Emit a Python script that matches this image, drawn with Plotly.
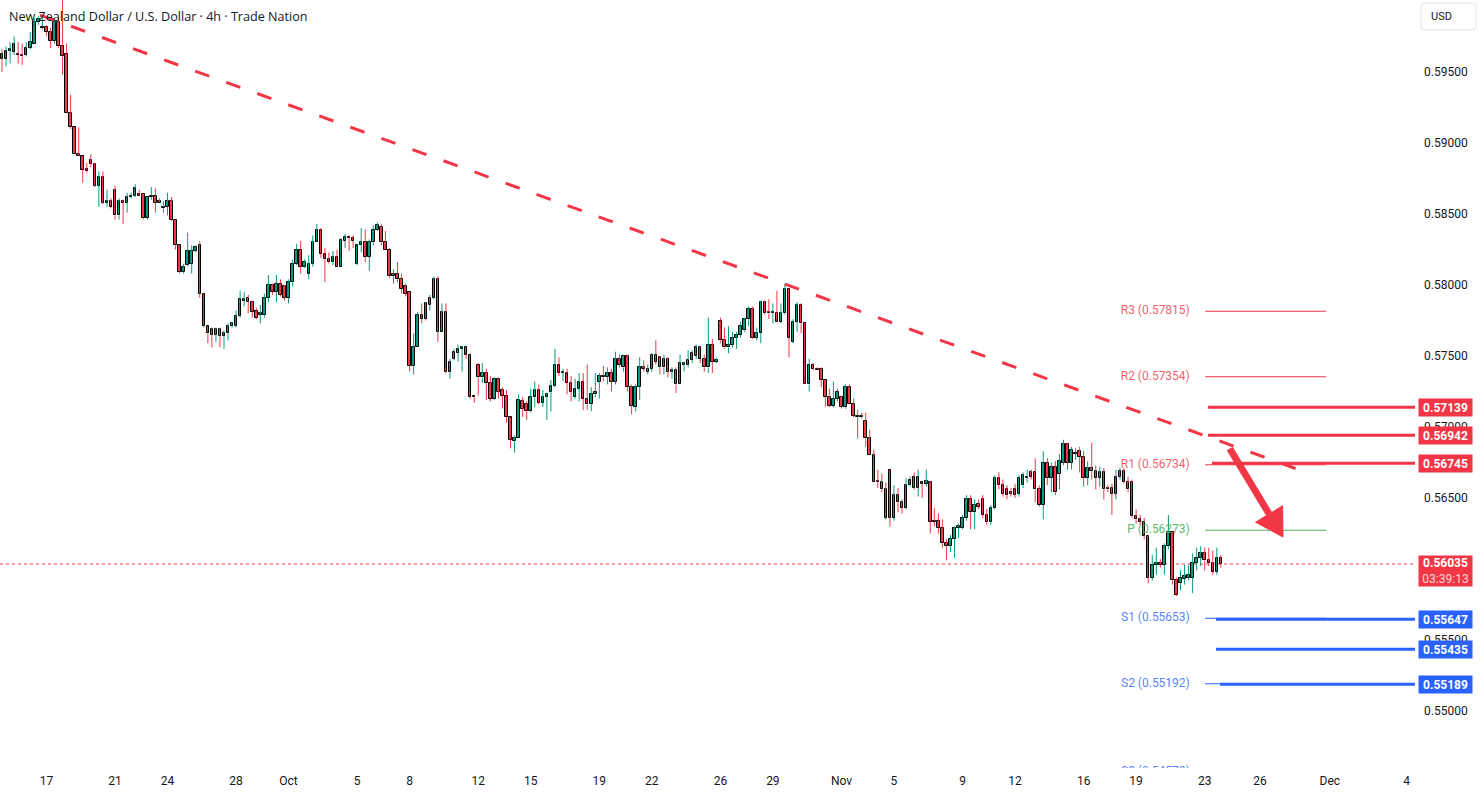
import plotly.graph_objects as go

# ---------------- data (NZD/USD 4h) ----------------
bar_open = [
    .5963, .5959, .5965, .5964, .5963, .5962, .5962, .5967, .5970, .5985,
    .5981, .5982, .5978, .5972, .5985, .5968, .5963, .5921, .5911, .5892,
    .5891, .5882, .5888, .5885, .5870, .5876, .5858, .5859, .5867, .5849,
    .5859, .5858, .5862, .5863, .5864, .5864, .5847, .5862, .5863, .5859,
    .5854, .5855, .5859, .5846, .5828, .5809, .5814, .5815, .5824, .5828,
    .5794, .5771, .5769, .5765, .5769, .5764, .5766, .5771, .5771, .5778,
    .5789, .5791, .5788, .5782, .5779, .5779, .5791, .5800, .5795, .5801,
    .5799, .5791, .5802, .5815, .5825, .5813, .5808, .5815, .5830, .5839,
    .5822, .5818, .5816, .5820, .5813, .5831, .5834, .5833, .5815, .5828,
    .5830, .5820, .5830, .5839, .5841, .5830, .5825, .5806, .5808, .5804,
    .5799, .5795, .5743, .5756, .5779, .5776, .5786, .5791, .5804, .5767,
    .5781, .5739, .5748, .5752, .5755, .5756, .5751, .5722, .5744, .5735,
    .5738, .5731, .5720, .5734, .5726, .5722, .5707, .5690, .5692, .5718,
    .5716, .5711, .5721, .5726, .5717, .5721, .5725, .5729, .5744, .5738,
    .5738, .5731, .5721, .5727, .5732, .5720, .5716, .5723, .5732, .5736,
    .5735, .5738, .5732, .5748, .5742, .5750, .5728, .5714, .5728, .5742,
    .5739, .5741, .5751, .5749, .5742, .5748, .5739, .5740, .5730, .5744,
    .5744, .5747, .5750, .5756, .5748, .5742, .5758, .5746, .5775, .5761,
    .5756, .5758, .5763, .5765, .5768, .5776, .5783, .5763, .5766, .5788,
    .5781, .5780, .5780, .5774, .5780, .5797, .5760, .5774, .5786, .5773,
    .5730, .5744, .5741, .5741, .5733, .5721, .5715, .5720, .5721, .5714,
    .5728, .5716, .5708, .5708, .5704, .5692, .5680, .5662, .5661, .5656,
    .5670, .5636, .5652, .5647, .5643, .5659, .5665, .5657, .5661, .5660,
    .5661, .5634, .5634, .5629, .5618, .5616, .5621, .5629, .5629, .5636,
    .5649, .5640, .5646, .5649, .5638, .5633, .5643, .5664, .5659, .5656,
    .5654, .5656, .5653, .5659, .5664, .5668, .5668, .5656, .5645, .5675,
    .5664, .5672, .5667, .5675, .5688, .5675, .5681, .5683, .5679, .5664,
    .5671, .5669, .5664, .5668, .5657, .5657, .5653, .5665, .5669, .5661,
    .5661, .5637, .5635, .5633, .5623, .5594, .5603, .5604, .5603, .5616,
    .5626, .5592, .5590, .5593, .5594, .5594, .5604, .5608, .5611, .5606,
    .5604, .5598, .5608,
]
bar_high = [
    .5966, .5968, .5971, .5975, .5971, .5970, .5971, .5978, .5988, .5989,
    .5990, .5983, .5981, .5988, .5989, .6004, .5970, .5934, .5911, .5911,
    .5891, .5886, .5892, .5886, .5880, .5880, .5867, .5861, .5870, .5861,
    .5860, .5865, .5865, .5871, .5867, .5864, .5862, .5869, .5868, .5861,
    .5859, .5865, .5862, .5846, .5828, .5815, .5837, .5828, .5828, .5831,
    .5794, .5771, .5770, .5770, .5770, .5768, .5773, .5774, .5782, .5796,
    .5795, .5793, .5789, .5784, .5786, .5794, .5807, .5801, .5807, .5804,
    .5800, .5804, .5818, .5829, .5831, .5818, .5821, .5835, .5843, .5840,
    .5826, .5823, .5824, .5825, .5833, .5836, .5835, .5835, .5828, .5840,
    .5839, .5832, .5842, .5844, .5843, .5838, .5826, .5811, .5816, .5808,
    .5801, .5795, .5766, .5781, .5787, .5788, .5793, .5806, .5806, .5787,
    .5787, .5748, .5755, .5758, .5757, .5756, .5752, .5722, .5745, .5745,
    .5741, .5736, .5735, .5735, .5728, .5726, .5707, .5694, .5723, .5721,
    .5718, .5727, .5732, .5730, .5726, .5724, .5733, .5755, .5749, .5741,
    .5741, .5736, .5734, .5738, .5738, .5744, .5728, .5738, .5738, .5743,
    .5742, .5741, .5753, .5751, .5751, .5751, .5730, .5730, .5749, .5747,
    .5744, .5752, .5761, .5750, .5751, .5749, .5742, .5742, .5751, .5746,
    .5754, .5754, .5758, .5757, .5751, .5777, .5762, .5749, .5777, .5770,
    .5771, .5767, .5767, .5774, .5777, .5785, .5785, .5770, .5789, .5789,
    .5790, .5787, .5796, .5787, .5801, .5797, .5776, .5788, .5787, .5773,
    .5748, .5745, .5742, .5742, .5733, .5727, .5732, .5727, .5722, .5730,
    .5730, .5720, .5712, .5710, .5710, .5698, .5684, .5670, .5667, .5661,
    .5670, .5659, .5657, .5649, .5664, .5665, .5668, .5670, .5661, .5670,
    .5662, .5643, .5639, .5635, .5621, .5624, .5630, .5632, .5638, .5652,
    .5652, .5649, .5649, .5652, .5642, .5645, .5666, .5668, .5663, .5659,
    .5657, .5660, .5666, .5668, .5670, .5670, .5678, .5659, .5683, .5678,
    .5675, .5676, .5681, .5691, .5689, .5686, .5685, .5686, .5683, .5676,
    .5689, .5673, .5672, .5671, .5659, .5660, .5670, .5671, .5671, .5665,
    .5663, .5642, .5638, .5636, .5624, .5610, .5615, .5607, .5618, .5638,
    .5626, .5594, .5599, .5603, .5603, .5611, .5615, .5616, .5615, .5615,
    .5613, .5615, .5610,
]
bar_low = [
    .5950, .5954, .5956, .5962, .5956, .5955, .5961, .5966, .5970, .5983,
    .5980, .5975, .5967, .5970, .5967, .5948, .5921, .5910, .5892, .5891,
    .5872, .5879, .5883, .5869, .5855, .5857, .5855, .5854, .5846, .5846,
    .5843, .5851, .5861, .5862, .5863, .5846, .5846, .5860, .5851, .5858,
    .5851, .5849, .5845, .5825, .5808, .5808, .5813, .5808, .5823, .5791,
    .5770, .5759, .5756, .5760, .5756, .5755, .5761, .5770, .5770, .5777,
    .5785, .5780, .5777, .5776, .5773, .5777, .5788, .5793, .5788, .5792,
    .5789, .5787, .5799, .5814, .5808, .5812, .5804, .5813, .5830, .5819,
    .5802, .5815, .5814, .5813, .5813, .5826, .5824, .5826, .5814, .5823,
    .5816, .5810, .5828, .5838, .5828, .5825, .5805, .5801, .5802, .5794,
    .5792, .5739, .5737, .5756, .5773, .5775, .5782, .5790, .5760, .5767,
    .5738, .5734, .5747, .5746, .5739, .5748, .5720, .5717, .5722, .5731,
    .5719, .5718, .5719, .5720, .5713, .5703, .5685, .5682, .5692, .5707,
    .5705, .5710, .5714, .5716, .5714, .5705, .5711, .5728, .5736, .5732,
    .5723, .5718, .5720, .5718, .5712, .5712, .5711, .5721, .5720, .5732,
    .5730, .5725, .5730, .5742, .5739, .5725, .5709, .5711, .5719, .5739,
    .5737, .5739, .5744, .5737, .5737, .5735, .5734, .5724, .5730, .5739,
    .5742, .5745, .5748, .5745, .5739, .5738, .5738, .5745, .5759, .5755,
    .5752, .5756, .5755, .5763, .5767, .5771, .5762, .5761, .5759, .5779,
    .5776, .5773, .5774, .5773, .5779, .5749, .5759, .5767, .5766, .5730,
    .5725, .5740, .5740, .5728, .5714, .5714, .5714, .5718, .5713, .5713,
    .5716, .5707, .5692, .5706, .5686, .5680, .5661, .5657, .5654, .5635,
    .5630, .5634, .5640, .5639, .5642, .5658, .5656, .5651, .5650, .5658,
    .5625, .5630, .5625, .5615, .5606, .5612, .5608, .5622, .5628, .5634,
    .5628, .5628, .5642, .5636, .5631, .5631, .5642, .5656, .5651, .5649,
    .5651, .5650, .5651, .5657, .5661, .5663, .5647, .5644, .5635, .5659,
    .5654, .5652, .5656, .5673, .5670, .5670, .5677, .5668, .5658, .5659,
    .5663, .5656, .5658, .5649, .5654, .5638, .5649, .5663, .5660, .5654,
    .5636, .5632, .5631, .5621, .5590, .5592, .5596, .5601, .5596, .5614,
    .5589, .5581, .5585, .5589, .5592, .5583, .5599, .5602, .5599, .5602,
    .5596, .5596, .5601,
]
bar_close = [
    .5959, .5965, .5966, .5970, .5962, .5961, .5967, .5971, .5985, .5987,
    .5982, .5978, .5972, .5985, .5968, .5961, .5921, .5911, .5892, .5891,
    .5881, .5880, .5885, .5870, .5876, .5858, .5859, .5855, .5849, .5859,
    .5858, .5862, .5863, .5868, .5863, .5847, .5862, .5863, .5858, .5858,
    .5855, .5859, .5846, .5828, .5809, .5813, .5824, .5824, .5827, .5794,
    .5771, .5766, .5765, .5769, .5764, .5766, .5771, .5773, .5778, .5790,
    .5790, .5788, .5781, .5777, .5780, .5791, .5800, .5795, .5801, .5793,
    .5791, .5802, .5815, .5825, .5813, .5816, .5815, .5830, .5839, .5822,
    .5818, .5816, .5820, .5813, .5832, .5834, .5833, .5831, .5828, .5830,
    .5820, .5830, .5839, .5842, .5830, .5825, .5806, .5808, .5804, .5797,
    .5794, .5743, .5756, .5779, .5776, .5787, .5791, .5804, .5767, .5781,
    .5739, .5746, .5753, .5755, .5756, .5751, .5721, .5721, .5735, .5738,
    .5731, .5720, .5734, .5725, .5722, .5707, .5691, .5692, .5719, .5713,
    .5711, .5721, .5726, .5717, .5721, .5723, .5729, .5744, .5738, .5739,
    .5731, .5725, .5727, .5732, .5720, .5716, .5723, .5725, .5736, .5735,
    .5738, .5732, .5748, .5744, .5750, .5728, .5715, .5728, .5742, .5741,
    .5741, .5751, .5746, .5742, .5748, .5739, .5740, .5730, .5745, .5745,
    .5747, .5752, .5756, .5748, .5742, .5758, .5746, .5747, .5761, .5756,
    .5758, .5763, .5765, .5771, .5776, .5783, .5763, .5766, .5788, .5780,
    .5780, .5781, .5774, .5780, .5797, .5763, .5774, .5786, .5773, .5730,
    .5744, .5741, .5740, .5733, .5721, .5715, .5720, .5725, .5714, .5728,
    .5716, .5708, .5707, .5707, .5692, .5680, .5661, .5661, .5656, .5636,
    .5636, .5652, .5647, .5643, .5659, .5663, .5657, .5665, .5660, .5662,
    .5633, .5633, .5629, .5618, .5616, .5621, .5629, .5630, .5636, .5649,
    .5640, .5645, .5644, .5638, .5633, .5643, .5664, .5659, .5653, .5652,
    .5653, .5652, .5664, .5666, .5665, .5665, .5656, .5645, .5675, .5664,
    .5672, .5654, .5676, .5688, .5675, .5684, .5682, .5679, .5664, .5671,
    .5669, .5664, .5668, .5656, .5656, .5653, .5665, .5669, .5661, .5656,
    .5637, .5635, .5633, .5623, .5594, .5603, .5604, .5603, .5616, .5626,
    .5592, .5582, .5594, .5595, .5596, .5604, .5608, .5611, .5606, .5604,
    .5598, .5608, .56035,
]

# time axis labels (bar index -> label)
date_tick_pos = [11, 28, 41, 58, 71, 88, 101, 118, 131, 148, 161, 178, 191,
                 208, 221, 238, 251, 268, 281, 298, 311.7, 329, 348]
date_tick_text = ["17", "21", "24", "28", "Oct", "5", "8", "12", "15", "19", "22",
                  "26", "29", "Nov", "5", "9", "12", "16", "19", "23", "26", "Dec", "4"]

price_ticks = [0.550, 0.555, 0.560, 0.565, 0.570, 0.575, 0.580, 0.585, 0.590, 0.595]

# pivot points
pivot_names = ["R3", "R2", "R1", "P", "S1", "S2", "S3"]
pivot_values = [0.57815, 0.57354, 0.56734, 0.56273, 0.55653, 0.55192, 0.54572]

# horizontal levels
resistance_levels = [0.57139, 0.56942, 0.56745]
support_levels = [0.55647, 0.55435, 0.55189]
last_price = 0.56035
countdown = "03:39:13"

# descending trend line (bar index, price)
trend_x = [9.4, 320.9]
trend_y = [0.59901, 0.56704]

title_text = "New Zealand Dollar / U.S. Dollar · 4h · Trade Nation"

# ---------------- style ----------------
UP = "#089981"
DOWN = "#F23645"
BLUE = "#2962FF"
PGREEN = "#4CAF50"
TXT = "#131722"
FONT = "Roboto"

N = len(bar_close)
assert len(bar_open) == N and len(bar_high) == N and len(bar_low) == N

X_RANGE = [-0.5, 350.1]
Y_RANGE = [0.545986, 0.600070]

fig = go.Figure()

# wicks
def wicks(sel):
    xs, ys = [], []
    for i in sel:
        o, h, l, c = bar_open[i], bar_high[i], bar_low[i], bar_close[i]
        top, bot = max(o, c), min(o, c)
        xs += [i, i, None, i, i, None]
        ys += [max(h, top), top, None, bot, min(l, bot), None]
    return xs, ys

up_idx = [i for i in range(N) if bar_close[i] >= bar_open[i]]
dn_idx = [i for i in range(N) if bar_close[i] < bar_open[i]]

for sel, col in ((up_idx, UP), (dn_idx, DOWN)):
    wx, wy = wicks(sel)
    fig.add_trace(go.Scatter(x=wx, y=wy, mode="lines", line=dict(color=col, width=1),
                             hoverinfo="skip", connectgaps=False))

for sel, col in ((up_idx, UP), (dn_idx, DOWN)):
    base = [min(bar_open[i], bar_close[i]) for i in sel]
    hgt = [max(abs(bar_close[i] - bar_open[i]), 0.00001) for i in sel]
    fig.add_trace(go.Bar(x=sel, y=hgt, base=base, width=0.62,
                         marker=dict(color=col, line=dict(color="#000000", width=1)),
                         hoverinfo="skip"))

# trend line
fig.add_trace(go.Scatter(x=trend_x, y=trend_y, mode="lines",
                         line=dict(color=DOWN, width=3, dash="15px,18px"), hoverinfo="skip"))

# pivot labels (clipped to plot area)
pivot_text_col = ["rgba(242,54,69,0.8)"] * 3 + ["rgba(76,175,80,0.9)"] + ["rgba(41,98,255,0.8)"] * 3
fig.add_trace(go.Scatter(
    x=[294.3] * len(pivot_values), y=pivot_values, mode="text",
    text=[f"{n} ({v:.5f})" for n, v in zip(pivot_names, pivot_values)],
    textposition="middle left",
    textfont=dict(family=FONT, size=12, color=pivot_text_col),
    hoverinfo="skip", cliponaxis=True))

shapes = []
pivot_line_col = [DOWN] * 3 + [PGREEN] + [BLUE] * 3
for v, c in zip(pivot_values, pivot_line_col):
    shapes.append(dict(type="line", xref="x", yref="y", x0=298.1, x1=328.1, y0=v, y1=v,
                       line=dict(color=c, width=1)))
for v, x0 in zip(resistance_levels, [298.8, 298.8, 299.8]):
    shapes.append(dict(type="line", xref="x", yref="y", x0=x0, x1=X_RANGE[1], y0=v, y1=v,
                       line=dict(color=DOWN, width=3)))
for v, x0 in zip(support_levels, [300.8, 300.8, 301.8]):
    shapes.append(dict(type="line", xref="x", yref="y", x0=x0, x1=X_RANGE[1], y0=v, y1=v,
                       line=dict(color=BLUE, width=3)))
# last price dotted line
shapes.append(dict(type="line", xref="x", yref="y", x0=X_RANGE[0], x1=X_RANGE[1],
                   y0=last_price, y1=last_price, line=dict(color=DOWN, width=1, dash="dot"), layer="below"))

# arrow (bar index, price)
arrow_pts = [(303.6, 0.56835), (313.3, 0.56377), (310.6, 0.56330), (317.4, 0.56225),
             (317.3, 0.56446), (314.6, 0.56398), (304.9, 0.56856)]
path = "M " + " L ".join(f"{x},{y}" for x, y in arrow_pts) + " Z"
shapes.append(dict(type="path", xref="x", yref="y", path=path, fillcolor=DOWN,
                   line=dict(color=DOWN, width=1)))

# USD box (paper coords)
PW, PH = 1415.0, 768.0
def px(xp):
    return xp / PW
def py(yp):
    return (PH - yp) / PH
r = 4
bx0, bx1, by0, by1 = 1421, 1476, 3, 30
usd_path = (f"M {px(bx0 + r)},{py(by0)} L {px(bx1 - r)},{py(by0)} Q {px(bx1)},{py(by0)} {px(bx1)},{py(by0 + r)} "
            f"L {px(bx1)},{py(by1 - r)} Q {px(bx1)},{py(by1)} {px(bx1 - r)},{py(by1)} "
            f"L {px(bx0 + r)},{py(by1)} Q {px(bx0)},{py(by1)} {px(bx0)},{py(by1 - r)} "
            f"L {px(bx0)},{py(by0 + r)} Q {px(bx0)},{py(by0)} {px(bx0 + r)},{py(by0)} Z")
shapes.append(dict(type="path", xref="paper", yref="paper", path=usd_path,
                   line=dict(color="#e0e3eb", width=1), fillcolor="white"))

annotations = [
    dict(xref="paper", yref="paper", x=px(7), y=py(16), xanchor="left", yanchor="middle",
         text=title_text, showarrow=False, font=dict(family="Open Sans", size=12.6, color=TXT)),
    dict(xref="paper", yref="paper", x=px(1441), y=py(17), xanchor="center", yanchor="middle",
         text="USD", showarrow=False, font=dict(family=FONT, size=11, color=TXT)),
]
for v in resistance_levels:
    annotations.append(dict(xref="paper", x=1, xanchor="left", xshift=3, yref="y", y=v,
                            text=f"<b>{v:.5f}</b>", showarrow=False, bgcolor=DOWN,
                            font=dict(family=FONT, size=12, color="white"),
                            width=49, height=13, borderpad=2))
for v in support_levels:
    annotations.append(dict(xref="paper", x=1, xanchor="left", xshift=3, yref="y", y=v,
                            text=f"<b>{v:.5f}</b>", showarrow=False, bgcolor=BLUE,
                            font=dict(family=FONT, size=12, color="white"),
                            width=49, height=13, borderpad=2))
annotations.append(dict(xref="paper", x=1, xanchor="left", xshift=3, yref="y", y=last_price,
                        yanchor="top", yshift=9,
                        text=f"<b>{last_price:.5f}</b><br><span style='color:#ffd6d9'>{countdown}</span>",
                        showarrow=False, bgcolor=DOWN, font=dict(family=FONT, size=12, color="white"),
                        width=49, height=26, borderpad=2))

fig.update_layout(
    width=1483, height=796,
    margin=dict(l=0, r=68, t=0, b=28),
    paper_bgcolor="white", plot_bgcolor="white",
    showlegend=False, barmode="overlay", bargap=0,
    font=dict(family=FONT, color=TXT),
    xaxis=dict(range=X_RANGE, tickvals=date_tick_pos, ticktext=date_tick_text,
               showgrid=False, zeroline=False, showline=False, ticks="",
               tickfont=dict(family=FONT, size=12, color=TXT), ticklabelstandoff=4),
    yaxis=dict(range=Y_RANGE, side="right", tickvals=price_ticks,
               ticktext=[f"{v:.5f}" for v in price_ticks],
               showgrid=False, zeroline=False, showline=False, ticks="",
               tickfont=dict(family=FONT, size=12, color=TXT), ticklabelstandoff=8),
    shapes=shapes,
    annotations=annotations,
)

fig.write_html("out.html", config={"displayModeBar": False})
